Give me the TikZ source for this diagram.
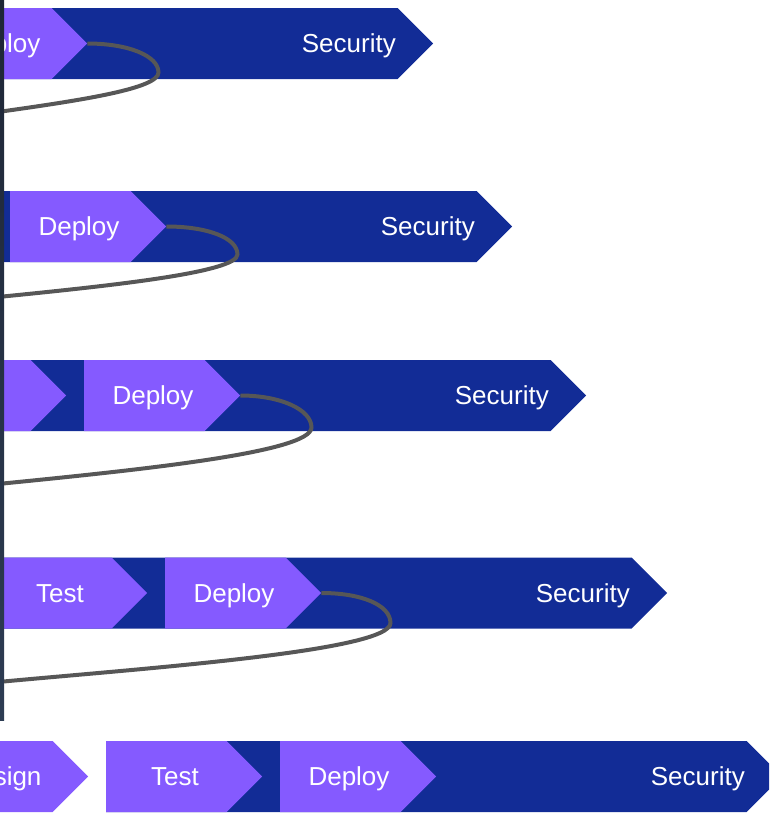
\documentclass[tikz,border=0pt]{standalone}
\usepackage{fontspec}
\setmainfont{Liberation Sans}
\usetikzlibrary{shapes.symbols,calc}
\definecolor{chevpurple}{HTML}{855AFF}
\definecolor{bandblue}{HTML}{122C96}
\definecolor{loopgray}{HTML}{575757}
\definecolor{edgebartop}{HTML}{1E2636}
\definecolor{edgebarbot}{HTML}{2D3C53}

\begin{document}
\begin{tikzpicture}[x=1pt,y=-1pt,
  chevron/.style={shape=signal, signal to=east, signal from=nowhere,
    signal pointer angle=90, inner sep=0pt, minimum height=71pt,
    draw=none, fill=chevpurple, anchor=west},
  stage/.style={chevron, minimum width=156pt},
  band/.style={chevron, fill=bandblue, minimum width=676pt},
  lbl/.style={text=white, font=\fontsize{26}{30}\selectfont, inner sep=0pt, anchor=base},
  seclbl/.style={text=white, font=\fontsize{26}{30}\selectfont, inner sep=0pt, anchor=base east},
  loop/.style={draw=loopgray, line width=4pt},
]
\useasboundingbox (0,0) rectangle (769,814);
\clip (0,0) rectangle (769,814);

% ---- row 1 ----
\node[band]  (b1) at (-243,43.5) {};
\node[stage] (d1) at (-69,43.5) {};
\node[lbl]    (d1t) at ($(d1.west)+(69,9.3)$) {Deploy};
\node[seclbl] (s1t) at ($(b1.west)+(639,9.3)$) {Security};

% ---- row 2 ----
\node[band]  (b2) at (-164,226.5) {};
\node[stage] (d2) at (10,226.5) {};
\node[lbl]    (d2t) at ($(d2.west)+(69,9.3)$) {Deploy};
\node[seclbl] (s2t) at ($(b2.west)+(639,9.3)$) {Security};

% ---- row 3 ----
\node[band]  (b3) at (-90,395.5) {};
\node[stage] (t3) at (-90,395.5) {};
\node[stage] (d3) at (84,395.5) {};
\node[lbl]    (d3t) at ($(d3.west)+(69,9.3)$) {Deploy};
\node[seclbl] (s3t) at ($(b3.west)+(639,9.3)$) {Security};

% ---- row 4 ----
\node[band]  (b4) at (-9,593) {};
\node[stage] (t4) at (-9,593) {};
\node[stage] (d4) at (165,593) {};
\node[lbl]    (t4t) at ($(t4.west)+(69,9.3)$) {Test};
\node[lbl]    (d4t) at ($(d4.west)+(69,9.3)$) {Deploy};
\node[seclbl] (s4t) at ($(b4.west)+(639,9.3)$) {Security};

% ---- row 5 ----
\node[stage] (g5) at (-68,776.5) {};
\node[band]  (b5) at (106,776.5) {};
\node[stage] (t5) at (106,776.5) {};
\node[stage] (d5) at (280,776.5) {};
\node[lbl]    (g5t) at ($(g5.west)+(69,9.3)$) {Design};
\node[lbl]    (t5t) at ($(t5.west)+(69,9.3)$) {Test};
\node[lbl]    (d5t) at ($(d5.west)+(69,9.3)$) {Deploy};
\node[seclbl] (s5t) at ($(b5.west)+(639,9.3)$) {Security};

% ---- feedback loops from the deploy stage ----
\coordinate (r1) at ($(d1.east)+(71,29)$);
\coordinate (e1) at (-2,112);
\draw[loop] (d1.east) .. controls +(40,0) and +(0,-17) .. (r1)
  .. controls +(0,16) and +(85,-12) .. (e1);

\coordinate (r2) at ($(d2.east)+(71,28)$);
\coordinate (e2) at (-2,297);
\draw[loop] (d2.east) .. controls +(40,0) and +(0,-17) .. (r2)
  .. controls +(0,18) and +(110,-11) .. (e2);

\coordinate (r3) at ($(d3.east)+(71,32)$);
\coordinate (e3) at (-2,484);
\draw[loop] (d3.east) .. controls +(40,0) and +(0,-18) .. (r3)
  .. controls +(0,25) and +(140,-14) .. (e3);

\coordinate (r4) at ($(d4.east)+(69,30)$);
\coordinate (e4) at (-2,682);
\draw[loop] (d4.east) .. controls +(40,0) and +(0,-18) .. (r4)
  .. controls +(0,28) and +(150,-14) .. (e4);

% ---- dark edge strip on the left ----
\shade[top color=edgebartop, bottom color=edgebarbot] (0,0) rectangle (4,720);
\end{tikzpicture}
\end{document}
